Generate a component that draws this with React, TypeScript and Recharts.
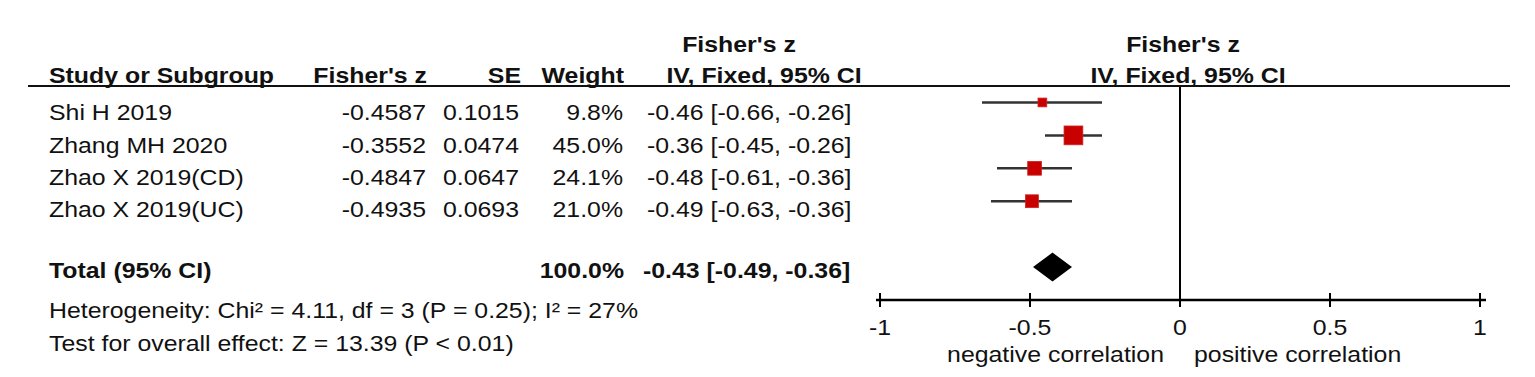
import React from "react";
import { ScatterChart, Scatter, ErrorBar, XAxis, YAxis, ReferenceLine, ReferenceArea } from "recharts";

const studies = ["Shi H 2019", "Zhang MH 2020", "Zhao X 2019(CD)", "Zhao X 2019(UC)"];
const fisherZ = [-0.4587, -0.3552, -0.4847, -0.4935];
const se = [0.1015, 0.0474, 0.0647, 0.0693];
const weights = [9.8, 45.0, 24.1, 21.0];
const ciLow = [-0.66, -0.45, -0.61, -0.63];
const ciHigh = [-0.26, -0.26, -0.36, -0.36];

const totalLabel = "Total (95% CI)";
const totalWeight = 100.0;
const totalZ = -0.43;
const totalLow = -0.49;
const totalHigh = -0.36;

const heterogeneity = "Heterogeneity: Chi\u00b2 = 4.11, df = 3 (P = 0.25); I\u00b2 = 27%";
const overallTest = "Test for overall effect: Z = 13.39 (P < 0.01)";
const xTicks = [-1, -0.5, 0, 0.5, 1];

const W = 1535;
const H = 377;
const FONT = "'Liberation Sans', Arial, Helvetica, sans-serif";
const SX = 1.13;
const TOTAL_ROW = 5;

const rows = studies.map((name, i) => ({
  name,
  row: i,
  z: fisherZ[i],
  weight: weights[i],
  err: [fisherZ[i] - ciLow[i], ciHigh[i] - fisherZ[i]],
}));

const fmtCI = (z: number, lo: number, hi: number) =>
  `${z.toFixed(2)} [${lo.toFixed(2)}, ${hi.toFixed(2)}]`;

function T({ x, y, anchor = "start", bold = false, size = 22, children }: any) {
  return (
    <text
      transform={`translate(${x} ${y}) scale(${SX} 1)`}
      textAnchor={anchor}
      fontFamily={FONT}
      fontSize={size}
      fontWeight={bold ? 700 : 400}
      fill="#111"
    >
      {children}
    </text>
  );
}

function WeightSquare(props: any) {
  const { cx, cy, payload } = props;
  const s = 2.8 * Math.sqrt(payload.weight);
  return <rect x={cx - s / 2} y={cy - s / 2} width={s} height={s} fill="#c80000" stroke="#d42020" strokeWidth={0.8} />;
}

function Diamond(props: any) {
  const { x, y, width, height } = props;
  const pts = [
    [x, y + height / 2],
    [x + width / 2, y],
    [x + width, y + height / 2],
    [x + width / 2, y + height],
  ]
    .map((p) => p.join(","))
    .join(" ");
  return <polygon points={pts} fill="#000" />;
}

function AxisTick({ x, y, payload }: any) {
  return (
    <g>
      <line x1={x} x2={x} y1={y - 7} y2={y + 7} stroke="#000" strokeWidth={2} />
      <T x={x} y={y + 35} anchor="middle">
        {String(payload.value)}
      </T>
    </g>
  );
}

// text rows sit a little lower than the plotted markers, as in the original
const textRowY = [119.5, 152.5, 184.5, 216.5];

function Table() {
  return (
    <svg width={W} height={H} style={{ position: "absolute", left: 0, top: 0 }}>
      <T x={739} y={51.7} anchor="middle" bold>Fisher's z</T>
      <T x={1183} y={51.7} anchor="middle" bold>Fisher's z</T>
      <T x={49} y={83.3} bold>Study or Subgroup</T>
      <T x={427} y={83.3} anchor="end" bold>Fisher's z</T>
      <T x={521} y={83.3} anchor="end" bold>SE</T>
      <T x={624} y={83.3} anchor="end" bold>Weight</T>
      <T x={764} y={83.3} anchor="middle" bold>IV, Fixed, 95% CI</T>
      <T x={1188} y={83.3} anchor="middle" bold>IV, Fixed, 95% CI</T>
      <line x1={28} x2={1510} y1={86} y2={86} stroke="#111" strokeWidth={2} />

      {studies.map((s, i) => (
        <g key={s}>
          <T x={49} y={textRowY[i]}>{s}</T>
          <T x={426} y={textRowY[i]} anchor="end">{fisherZ[i].toFixed(4)}</T>
          <T x={519} y={textRowY[i]} anchor="end">{se[i].toFixed(4)}</T>
          <T x={623} y={textRowY[i]} anchor="end">{weights[i].toFixed(1) + "%"}</T>
          <T x={647} y={textRowY[i]}>{fmtCI(fisherZ[i], ciLow[i], ciHigh[i])}</T>
        </g>
      ))}

      <T x={49} y={278} bold>{totalLabel}</T>
      <T x={624} y={278} anchor="end" bold>{totalWeight.toFixed(1) + "%"}</T>
      <T x={643} y={278} bold>{fmtCI(totalZ, totalLow, totalHigh)}</T>

      <T x={49} y={318}>{heterogeneity}</T>
      <T x={49} y={351}>{overallTest}</T>

      <T x={1164} y={362} anchor="end">negative correlation</T>
      <T x={1194} y={362}>positive correlation</T>
    </svg>
  );
}

export default function App() {
  return (
    <div style={{ position: "absolute", left: 0, top: 0, width: W, height: H, background: "#fff" }}>
      <ScatterChart width={W} height={H} margin={{ top: 86, right: 49, bottom: 37, left: 876 }}>
        <XAxis
          type="number"
          dataKey="z"
          domain={[-1, 1]}
          ticks={xTicks}
          padding={{ left: 4, right: 6 }}
          height={40}
          tickSize={0}
          tickMargin={0}
          tickLine={false}
          axisLine={{ stroke: "#000", strokeWidth: 2.5 }}
          tick={<AxisTick />}
          interval={0}
        />
        <YAxis type="number" dataKey="row" domain={[-0.5, 6]} reversed hide width={0} />
        <ReferenceLine x={0} stroke="#000" strokeWidth={2} />
        <ReferenceArea
          x1={totalLow}
          x2={totalHigh}
          y1={TOTAL_ROW - 0.44}
          y2={TOTAL_ROW + 0.44}
          shape={<Diamond />}
        />
        <Scatter data={rows} shape={<WeightSquare />} isAnimationActive={false}>
          <ErrorBar dataKey="err" direction="x" width={0} stroke="#333" strokeWidth={2.5} isAnimationActive={false} />
        </Scatter>
      </ScatterChart>
      <Table />
    </div>
  );
}
